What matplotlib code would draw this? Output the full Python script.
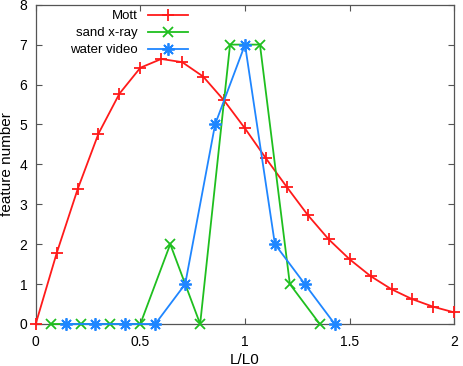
import matplotlib
matplotlib.use("Agg")
import matplotlib.pyplot as plt
import numpy as np

plt.rcParams['font.family'] = ['Liberation Sans', 'DejaVu Sans']

# Data
mott_x = [0.0, 0.1, 0.2, 0.3, 0.4, 0.5, 0.6, 0.7, 0.8, 0.9, 1.0,
          1.1, 1.2, 1.3, 1.4, 1.5, 1.6, 1.7, 1.8, 1.9, 2.0]
mott_y = [0.0, 1.77, 3.37, 4.77, 5.77, 6.42, 6.64, 6.56, 6.2, 5.6, 4.9,
          4.15, 3.43, 2.73, 2.12, 1.62, 1.2, 0.87, 0.62, 0.43, 0.29]

sand_x = [0.5/7, 1.5/7, 2.5/7, 3.5/7, 4.5/7, 5.5/7, 6.5/7, 7.5/7, 8.5/7, 9.5/7]
sand_y = [0, 0, 0, 0, 2, 0, 7, 7, 1, 0]

water_x = [1/7, 2/7, 3/7, 4/7, 5/7, 6/7, 7/7, 8/7, 9/7, 10/7]
water_y = [0, 0, 0, 0, 1, 5, 7, 2, 1, 0]

x_ticks = [0, 0.5, 1, 1.5, 2]
x_tick_labels = ['0', '0.5', '1', '1.5', '2']
y_ticks = [0, 1, 2, 3, 4, 5, 6, 7, 8]

red = '#ff1a1a'
green = '#1fbf1f'
blue = '#1f86ff'

fig = plt.figure(figsize=(4.63, 3.66), dpi=100)
ax = fig.add_axes([0.0771, 0.1148, 0.9041, 0.8724])

ax.plot(mott_x, mott_y, color=red, lw=1.3, marker='+', ms=8, mew=1.3, label='Mott', clip_on=False, zorder=3)
ax.plot(sand_x, sand_y, color=green, lw=1.3, marker='x', ms=7, mew=1.3, label='sand x-ray', clip_on=False, zorder=3)
ax.plot(water_x, water_y, color=blue, lw=1.3, marker=(8, 2, 0), ms=9, mew=1.3, label='water video', clip_on=False, zorder=3)

ax.set_xlim(0, 2)
ax.set_ylim(0, 8)
ax.set_xticks(x_ticks)
ax.set_xticklabels(x_tick_labels)
ax.set_yticks(y_ticks)
ax.tick_params(direction='in', top=True, right=True, length=4, labelsize=10, color='#555555')
ax.tick_params(axis='x', pad=8)
ax.tick_params(axis='y', pad=6)
for s in ax.spines.values():
    s.set_color('#555555')
    s.set_linewidth(0.9)

ax.set_xlabel('L/L0', fontsize=11, labelpad=3)
ax.set_ylabel('feature number', fontsize=11, labelpad=4)

leg = ax.legend(loc='upper left', bbox_to_anchor=(0.06, 1.012), frameon=False,
                markerfirst=False, fontsize=9.5, handlelength=3.0, handletextpad=0.8,
                labelspacing=0.36, borderaxespad=0.3)

fig.savefig('out.png', dpi=100)
